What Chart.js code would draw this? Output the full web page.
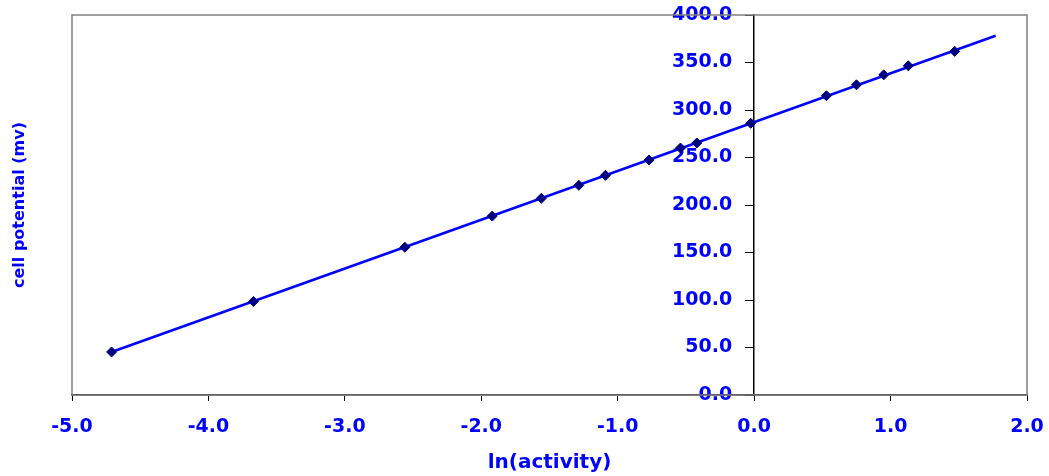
<!DOCTYPE html>
<html>
<head>
<meta charset="utf-8">
<script src="https://cdn.jsdelivr.net/npm/chart.js@4/dist/chart.umd.min.js"></script>
<style>
  html, body { margin: 0; padding: 0; background: #ffffff; }
  #wrap { width: 1049px; height: 476px; }
</style>
</head>
<body>
<div id="wrap"><canvas id="cv" width="1049" height="476"></canvas></div>
<script>
// Measured points: ln(activity) vs cell potential (mV)
const lnActivity = [-4.71, -3.67, -2.56, -1.92, -1.56, -1.285, -1.09, -0.77, -0.54, -0.42, -0.025, 0.53, 0.75, 0.95, 1.13, 1.47];
const potential  = [45.3, 98.4, 155.5, 188.3, 207.0, 220.7, 231.2, 247.4, 260.0, 265.3, 286.0, 315.0, 326.5, 337.0, 346.5, 361.7];

// Linear fit line end points
const fitX = [-4.71, 1.77];
const fitY = [45.3, 378.2];

// Axis ticks
const xTicks = [-5, -4, -3, -2, -1, 0, 1, 2];
const yTicks = [0, 50, 100, 150, 200, 250, 300, 350, 400];

const BLUE = '#0000ff';
const NAVY = '#000080';
const FONT = 'DejaVu Sans';
const Y_LABEL_GAP = 22;   // distance from the y axis line to the right edge of its labels

const points = lnActivity.map((x, i) => ({ x: x, y: potential[i] }));
const fitLine = fitX.map((x, i) => ({ x: x, y: fitY[i] }));

// Gray frame around the plotting area
const frame = {
  id: 'frame',
  beforeDatasetsDraw(chart) {
    const { ctx, chartArea: a } = chart;
    ctx.save();
    ctx.strokeStyle = '#808080';
    ctx.lineWidth = 1.5;
    ctx.strokeRect(a.left, a.top, a.right - a.left, a.bottom - a.top);
    ctx.restore();
  }
};

// The crossing y axis puts its labels right on the axis line; move them
// to the left so the tick marks stay visible.
const yLabelOffset = {
  id: 'yLabelOffset',
  beforeDraw(chart) {
    const scale = chart.scales.y;
    if (!scale || !scale.getLabelItems) return;
    const items = scale.getLabelItems(chart.chartArea);
    items.forEach(it => {
      if (it._shifted || !it.options || !it.options.translation) return;
      it.options.translation[0] -= Y_LABEL_GAP;
      it._shifted = true;
    });
  }
};

// Fixed plot-area margins: ignore label overflow at the axis ends
function noEdgePadding(s) {
  s.paddingLeft = 0; s.paddingRight = 0;
  s.paddingTop = 0; s.paddingBottom = 0;
}

new Chart(document.getElementById('cv'), {
  type: 'scatter',
  data: {
    datasets: [
      {
        label: 'data',
        data: points,
        order: 0,
        showLine: false,
        pointStyle: 'rectRot',
        pointRadius: 5,
        pointBackgroundColor: NAVY,
        pointBorderColor: NAVY,
        pointBorderWidth: 1
      },
      {
        label: 'fit',
        data: fitLine,
        order: 1,
        showLine: true,
        borderColor: BLUE,
        borderWidth: 2.6,
        pointRadius: 0
      }
    ]
  },
  options: {
    responsive: false,
    animation: false,
    layout: { padding: { top: 15, right: 22, left: 0, bottom: 0 } },
    plugins: { legend: { display: false }, tooltip: { enabled: false } },
    scales: {
      x: {
        type: 'linear',
        position: 'bottom',
        min: xTicks[0],
        max: xTicks[xTicks.length - 1],
        afterBuildTicks(s) { s.ticks = xTicks.map(v => ({ value: v })); },
        afterFit(s) { s.height = 81; noEdgePadding(s); },
        grid: { drawOnChartArea: false, drawTicks: true, tickLength: 6, color: '#000000', lineWidth: 1 },
        border: { display: true, color: '#000000', width: 1.5 },
        ticks: {
          color: BLUE,
          font: { family: FONT, weight: 'bold', size: 19 },
          padding: 15,
          maxRotation: 0,
          callback: v => Number(v).toFixed(1)
        },
        title: {
          display: true,
          text: 'ln(activity)',
          color: BLUE,
          font: { family: FONT, weight: 'bold', size: 20 },
          padding: { top: 0, bottom: 1 }
        }
      },
      y: {
        type: 'linear',
        position: { x: 0 },
        min: yTicks[0],
        max: yTicks[yTicks.length - 1],
        afterBuildTicks(s) { s.ticks = yTicks.map(v => ({ value: v })); },
        afterFit(s) { noEdgePadding(s); },
        grid: { drawOnChartArea: false, drawTicks: true, tickLength: 8, color: '#000000', lineWidth: 1 },
        border: { display: true, color: '#000000', width: 1.5 },
        ticks: {
          color: BLUE,
          font: { family: FONT, weight: 'bold', size: 19 },
          padding: 6,
          callback: v => Number(v).toFixed(1)
        }
      },
      yTitle: {
        type: 'linear',
        position: 'left',
        min: yTicks[0],
        max: yTicks[yTicks.length - 1],
        afterFit(s) { s.width = 72; noEdgePadding(s); },
        grid: { display: false },
        border: { display: false },
        ticks: { display: false },
        title: {
          display: true,
          text: 'cell potential (mv)',
          color: BLUE,
          font: { family: FONT, weight: 'bold', size: 16 },
          padding: { top: 10, bottom: 0 }
        }
      }
    }
  },
  plugins: [frame, yLabelOffset]
});
</script>
</body>
</html>
